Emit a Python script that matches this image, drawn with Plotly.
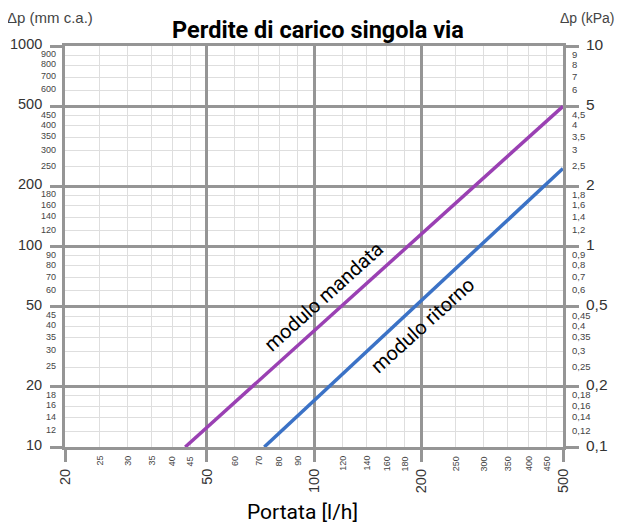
import numpy as np
import plotly.graph_objects as go

# ---- data ----
mandata_flow = [43.5, 500]      # l/h
mandata_dp = [10, 500]          # mm c.a.
ritorno_flow = [72.5, 500]
ritorno_dp = [10, 245]

x_major = [20, 50, 100, 200, 500]
x_minor = [25, 30, 35, 40, 45, 60, 70, 80, 90, 120, 140, 160, 180, 250, 300, 350, 400, 450]
y_major = [10, 20, 50, 100, 200, 500, 1000]
y_minor = [12, 14, 16, 18, 25, 30, 35, 40, 45, 60, 70, 80, 90, 120, 140, 160, 180,
           250, 300, 350, 400, 450, 600, 700, 800, 900]
y_major_right = ["0,1", "0,2", "0,5", "1", "2", "5", "10"]
y_minor_right = ["0,12", "0,14", "0,16", "0,18", "0,25", "0,3", "0,35", "0,4", "0,45",
                 "0,6", "0,7", "0,8", "0,9", "1,2", "1,4", "1,6", "1,8",
                 "2,5", "3", "3,5", "4", "4,5", "6", "7", "8", "9"]

label_mandata_at = 107
label_ritorno_at = 202

PURPLE = "#9a40b3"
BLUE = "#3b72c6"
MAJOR = "#959595"
MINOR = "#dedede"
TXT = "#444444"
FONT = "Liberation Sans"

# page body has an 8px margin; figure placed at (8, 8)
OFF = 8
W, H = 625 - OFF, 524 - OFF
L, T, PW, PH = 65 - OFF, 46 - OFF, 498, 401
R, B = W - L - PW, H - T - PH

def on_line(xs, ys, xv):
    lx, ly = np.log10(xs), np.log10(ys)
    return float(np.interp(np.log10(xv), lx, ly))

def px(sx):  # screen x -> paper
    return (sx - 65) / PW

def py(sy):  # screen y -> paper
    return (447 - sy) / PH

fig = go.Figure()
fig.add_trace(go.Scatter(x=mandata_flow, y=mandata_dp, mode="lines",
                         line=dict(color=PURPLE, width=3.5), showlegend=False))
fig.add_trace(go.Scatter(x=ritorno_flow, y=ritorno_dp, mode="lines",
                         line=dict(color=BLUE, width=3.5), showlegend=False))
fig.add_trace(go.Scatter(x=[20, 500], y=[10, 1000], mode="lines", yaxis="y2",
                         line=dict(width=0), hoverinfo="skip", showlegend=False))

ann = []
# left labels
for v in y_major:
    ann.append(dict(x=0, y=np.log10(v), xref="paper", yref="y", text=str(v), showarrow=False,
                    xanchor="right", yanchor="middle", xshift=-21, yshift=2,
                    font=dict(family=FONT, size=14.5, color="#333")))
for v in y_minor:
    ann.append(dict(x=0, y=np.log10(v), xref="paper", yref="y", text=str(v), showarrow=False,
                    xanchor="right", yanchor="middle", xshift=-7, yshift=1,
                    font=dict(family=FONT, size=9, color=TXT)))
# right labels
for v, t in zip(y_major, y_major_right):
    ann.append(dict(x=1, y=np.log10(v), xref="paper", yref="y", text=t, showarrow=False,
                    xanchor="left", yanchor="middle", xshift=21, yshift=2,
                    font=dict(family=FONT, size=15.5, color="#333")))
for v, t in zip(y_minor, y_minor_right):
    ann.append(dict(x=1, y=np.log10(v), xref="paper", yref="y", text=t, showarrow=False,
                    xanchor="left", yanchor="middle", xshift=7, yshift=1,
                    font=dict(family=FONT, size=9.5, color=TXT)))
# bottom labels
for v in x_major:
    ann.append(dict(x=np.log10(v), y=0, xref="x", yref="paper", text=str(v), showarrow=False,
                    xanchor="center", yanchor="top", yshift=-20, textangle=-90,
                    font=dict(family=FONT, size=14.5, color="#333")))
for v in x_minor:
    ann.append(dict(x=np.log10(v), y=0, xref="x", yref="paper", text=str(v), showarrow=False,
                    xanchor="center", yanchor="top", yshift=-7, textangle=-90,
                    font=dict(family=FONT, size=9, color=TXT)))
# line labels
ann.append(dict(x=np.log10(label_mandata_at), y=on_line(mandata_flow, mandata_dp, label_mandata_at),
                xref="x", yref="y", text="modulo mandata", showarrow=False, textangle=-42,
                yshift=25, font=dict(family="Roboto", size=20, color="black")))
ann.append(dict(x=np.log10(label_ritorno_at), y=on_line(ritorno_flow, ritorno_dp, label_ritorno_at),
                xref="x", yref="y", text="modulo ritorno", showarrow=False, textangle=-42,
                yshift=-26, font=dict(family="Roboto", size=20, color="black")))
# axis titles
ann.append(dict(x=px(50), y=py(18), xref="paper", yref="paper",
                text="Δp (mm c.a.)", showarrow=False, xanchor="center", yanchor="middle",
                font=dict(family=FONT, size=15, color=TXT)))
ann.append(dict(x=px(616), y=py(18), xref="paper", yref="paper",
                text="Δp (kPa)", showarrow=False, xanchor="right", yanchor="middle",
                font=dict(family=FONT, size=14, color=TXT)))
ann.append(dict(x=px(302), y=py(512), xref="paper", yref="paper",
                text="Portata [l/h]", showarrow=False, xanchor="center", yanchor="middle",
                font=dict(family="Roboto", size=21, color="black")))

fig.update_layout(
    width=W, height=H,
    margin=dict(l=L, r=R, t=T, b=B),
    paper_bgcolor="white", plot_bgcolor="white",
    title=dict(text="<b>Perdite di carico singola via</b>", x=(318 - OFF) / W, xanchor="center",
               y=1 - (30 - OFF) / H, yanchor="middle", yref="container",
               font=dict(family="Roboto", size=23.5, color="black")),
    xaxis=dict(type="log", range=[np.log10(20), np.log10(500)], tickvals=x_major,
               showticklabels=False, ticks="outside", ticklen=12, tickwidth=3, tickcolor=MAJOR,
               showgrid=True, gridcolor=MAJOR, gridwidth=3,
               showline=True, linecolor=MAJOR, linewidth=3, mirror=True, zeroline=False,
               minor=dict(tickvals=x_minor, showgrid=True, gridcolor=MINOR, gridwidth=1, ticks="")),
    yaxis=dict(type="log", range=[1, 3], tickvals=y_major,
               showticklabels=False, ticks="outside", ticklen=12, tickwidth=3, tickcolor=MAJOR,
               showgrid=True, gridcolor=MAJOR, gridwidth=3,
               showline=True, linecolor=MAJOR, linewidth=3, mirror=True, zeroline=False,
               minor=dict(tickvals=y_minor, showgrid=True, gridcolor=MINOR, gridwidth=1, ticks="")),
    yaxis2=dict(type="log", range=[1, 3], overlaying="y", side="right", tickvals=y_major,
                showticklabels=False, ticks="outside", ticklen=15, tickwidth=3, tickcolor=MAJOR,
                showgrid=False, showline=False, zeroline=False),
    annotations=ann,
)
fig.write_html("out.html")
